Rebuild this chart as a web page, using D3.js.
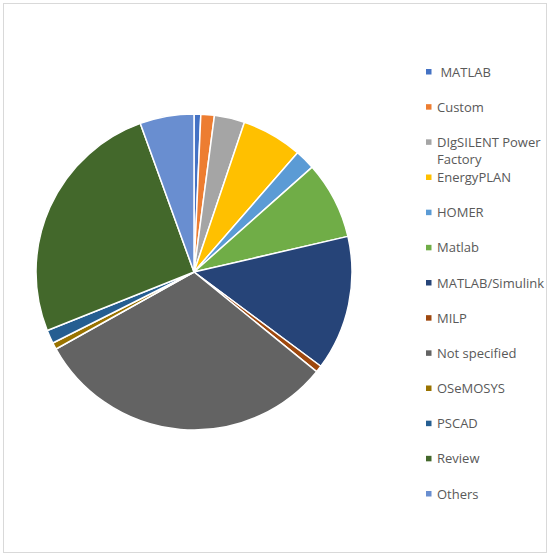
<!DOCTYPE html>
<html>
<head>
<meta charset="utf-8">
<script src="https://cdn.jsdelivr.net/npm/d3@7"></script>
<style>
  body { margin: 0; background: #fff; }
  text { font-family: "Open Sans", "Liberation Sans", sans-serif; white-space: pre; }
</style>
</head>
<body>
<div id="chart"></div>
<script>
var labels = [" MATLAB", "Custom", "DIgSILENT Power Factory", "EnergyPLAN", "HOMER", "Matlab",
  "MATLAB/Simulink", "MILP", "Not specified", "OSeMOSYS", "PSCAD", "Review", "Others"];
var counts = [1, 2, 4.5, 9, 3, 11.5, 20, 1, 45, 1, 2, 37, 8];
var colors = ["#4472C4", "#ED7D31", "#A5A5A5", "#FFC000", "#5B9BD5", "#70AD47",
  "#264478", "#9E480E", "#636363", "#997300", "#255E91", "#43682B", "#698ED0"];

var width = 550, height = 560;
var cx = 194, cy = 272, radius = 158;

var svg = d3.select("#chart").append("svg")
    .attr("width", width).attr("height", height);

svg.append("rect")
    .attr("x", 3.5).attr("y", 3.5)
    .attr("width", 543).attr("height", 549)
    .attr("fill", "#fff")
    .attr("stroke", "#d9d9d9");

var data = labels.map(function(d, i){ return {label: d, value: counts[i], color: colors[i]}; });

var pie = d3.pie().sort(null).value(function(d){ return d.value; });
var arc = d3.arc().innerRadius(0).outerRadius(radius);

var g = svg.append("g").attr("transform", "translate(" + cx + "," + cy + ")");

g.selectAll("path")
    .data(pie(data))
    .enter().append("path")
    .attr("d", arc)
    .attr("fill", function(d){ return d.data.color; })
    .attr("stroke", "#fff")
    .attr("stroke-width", 1.5)
    .attr("stroke-linejoin", "round");

// legend
var legend = svg.append("g").attr("transform", "translate(425,0)");
var rowY = d3.scalePoint().domain(d3.range(labels.length)).range([72, 494]);

var items = legend.selectAll("g")
    .data(data)
    .enter().append("g")
    .attr("transform", function(d, i){ return "translate(0," + rowY(i) + ")"; });

items.append("rect")
    .attr("x", 1).attr("y", -3)
    .attr("width", 5.5).attr("height", 5.5)
    .attr("fill", function(d){ return d.color; });

items.each(function(d){
  var t = d3.select(this).append("text")
      .attr("x", 12).attr("y", 4.5)
      .attr("font-size", 13)
      .attr("fill", "#595959");
  if (d.label === "DIgSILENT Power Factory") {
    t.append("tspan").attr("x", 12).attr("dy", 0).text("DIgSILENT Power");
    t.append("tspan").attr("x", 12).attr("dy", 17.5).text("Factory");
  } else {
    t.text(d.label);
  }
});
</script>
</body>
</html>
